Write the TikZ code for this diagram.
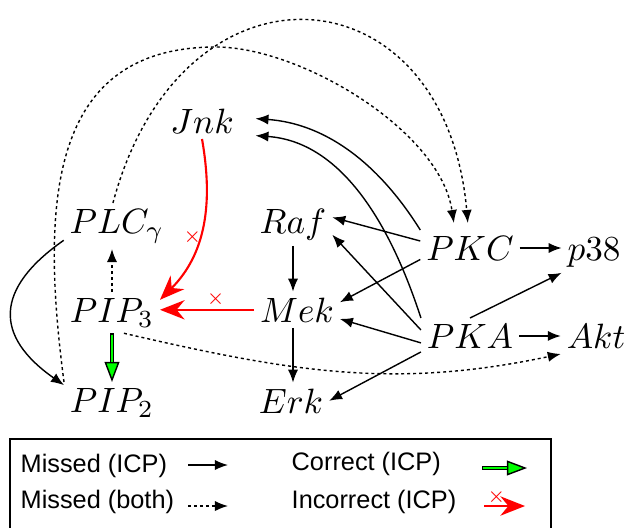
\documentclass[tikz,border=0pt]{standalone}
\usepackage{fontspec}
\newfontfamily\legendfont{Liberation Sans}
\usetikzlibrary{arrows.meta,positioning}

\begin{document}
\begin{tikzpicture}[% styles for the whole network, one unit is one pixel of the figure
      x=0.01cm, y=0.01cm,
      >={Latex[length=3.7pt,width=2.9pt]},
      every node/.style={inner sep=1.5pt},
      prot/.style={anchor=base, font=\fontsize{10.4}{12}\selectfont}, % protein names
      every edge/.style={draw},
      missboth/.style={dash pattern=on 0.85pt off 0.85pt}, % missed by both methods
      correct/.style={line width=1.4pt,
        -{Triangle[length=5.7pt,width=4.2pt,line width=0.4pt,fill=green]},
        postaction={draw=green, line width=0.7pt, -, shorten >=5.6pt, shorten <=0.4pt}},
      incorrect/.style={draw=red, line width=0.6pt, -{Stealth[length=7pt,width=5.5pt]}},
      xmark/.style={text=red, inner sep=0pt, font=\fontsize{3.2}{4}\selectfont},
      legend/.style={anchor=west, inner sep=0pt, font=\legendfont\fontsize{7.2}{8}\selectfont}
    ]
    \useasboundingbox (0,0) rectangle (625,-527);

    % proteins
    \node[prot] (jnk) at (202,-133) {$Jnk$};
    \node[prot] (plc) at (117,-233) {$PLC_\gamma$};
    \node[prot] (raf) at (293,-233) {$Raf$};
    \node[prot] (pip3) at (112,-322) {$PIP_3$};
    \node[prot] (mek) at (297,-322) {$Mek$};
    \node[prot] (pkc) at (470,-260) {$PKC$};
    \node[prot] (p38) at (594,-260) {$p38$};
    \node[prot] (pka) at (470,-348) {$PKA$};
    \node[prot] (akt) at (596,-348) {$Akt$};
    \node[prot] (pip2) at (112,-412) {$PIP_2$};
    \node[prot] (erk) at (291,-413) {$Erk$};

    % missed (ICP)
    \path[->]
    (pkc.east) edge (p38.west |- pkc.east)
    (pka.east) edge (akt.west |- pka.east)
    (pka.north) edge (p38.south west)
    (pkc.172) edge (raf.10)
    (pka.173) edge (raf.-15)
    (pkc.193) edge (mek.10)
    (pka.188) edge (mek.-12)
    (pka.198) edge (erk.east)
    (raf.south) edge (raf.south |- mek.north)
    (raf.south |- mek.south) edge (raf.south |- erk.north)
    (pkc.north west) edge [out=122, in=-4, shorten >=4.5pt] (jnk.5)
    (pka.north west) edge [out=108, in=-4, shorten >=4.5pt] (jnk.-20)
    (plc.195) edge [out=215, in=145, looseness=1.5] (pip2.160)
    ;

    % missed (both)
    \path[->]
    (pip3.north) edge [missboth] (pip3.north |- plc.south)
    (pip3.-60) edge [missboth, out=-13, in=192] (akt.south west)
    (plc.100) edge [missboth, out=75, in=95, looseness=1.9, shorten >=2pt] (pkc.95)
    ;
    \draw[->, missboth, shorten >=2pt] (pip2.north west)
      .. controls (40,-200) and (50,-47) .. (216,-47)
      .. controls (300,-47) and (440,-130) .. (pkc.130);

    % correct and incorrect (ICP)
    \path
    (pip3.south) edge [correct] (pip3.south |- pip2.north)
    (mek.west) edge [incorrect] node [xmark, pos=.41, yshift=0.11cm] {$\times$} (mek.west -| pip3.east)
    (jnk.south) edge [incorrect, out=-80, in=45] node [xmark, pos=.57, xshift=-0.07cm] {$\times$} (pip3.15)
    ;

    % legend
    \draw (10,-439) rectangle (551,-560);
    \node[legend] (missicp) at (20,-466) {Missed (ICP)};
    \node[legend] (missboth) at (20,-502) {Missed (both)};
    \node[legend] (corr) at (291,-464) {Correct (ICP)};
    \node[legend] (incorr) at (291,-502) {Incorrect (ICP)};
    \coordinate (missicp a) at (188,-465);
    \coordinate (missicp b) at (228,-465);
    \coordinate (missboth a) at (188,-506);
    \coordinate (missboth b) at (228,-506);
    \coordinate (corr a) at (482,-468);
    \coordinate (corr b) at (527,-468);
    \coordinate (incorr a) at (484,-506);
    \coordinate (incorr b) at (525,-506);
    \path
    (missicp a) edge [->] (missicp b)
    (missboth a) edge [->, missboth] (missboth b)
    (corr a) edge [correct] (corr b)
    (incorr a) edge [incorrect] node [xmark, pos=.3, yshift=0.09cm] {$\times$} (incorr b)
    ;
  \end{tikzpicture}
\end{document}
